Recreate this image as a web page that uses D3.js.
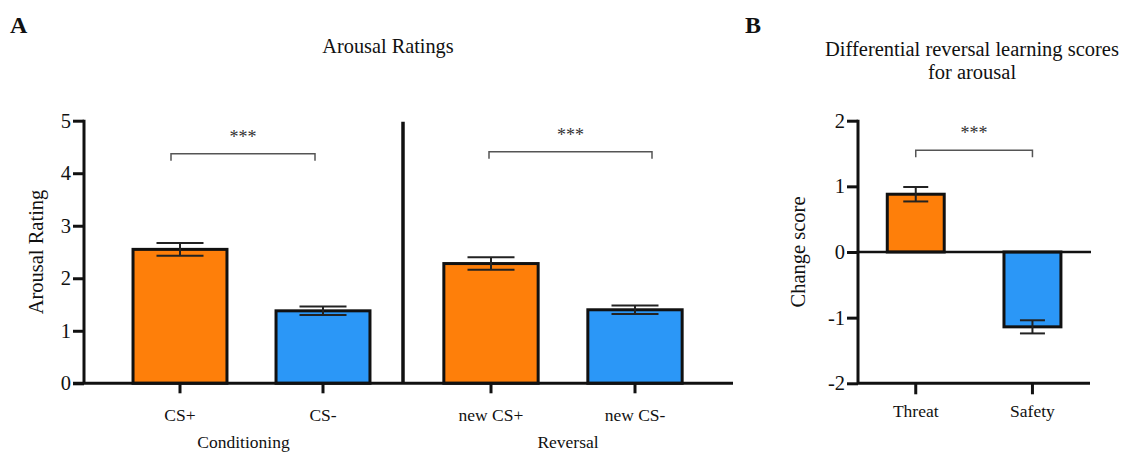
<!DOCTYPE html>
<html>
<head>
<meta charset="utf-8">
<script src="https://cdn.jsdelivr.net/npm/d3@7"></script>
<style>
  html, body { margin: 0; padding: 0; background: #fff; }
  svg { display: block; font-family: "Liberation Serif", "Times New Roman", serif; }
</style>
</head>
<body>
<svg id="chart" width="1127" height="454"></svg>
<script>
// ---- Data ----
const phases = ["Conditioning", "Reversal"];
const condCategories = ["CS+", "CS-"];
const revCategories = ["new CS+", "new CS-"];
const condMeans = [2.55, 1.38];
const condErrors = [0.12, 0.08];
const revMeans = [2.28, 1.40];
const revErrors = [0.12, 0.08];
const arousalTicks = [0, 1, 2, 3, 4, 5];

const changeCategories = ["Threat", "Safety"];
const changeMeans = [0.88, -1.14];
const changeErrors = [0.11, 0.10];
const changeTicks = [-2, -1, 0, 1, 2];

// significance brackets: [first category, second category, height, label]
const condSig = ["CS+", "CS-", 4.37, "***"];
const revSig = ["new CS+", "new CS-", 4.41, "***"];
const changeSig = ["Threat", "Safety", 1.55, "***"];

const barColors = ["#FE7F0A", "#2B97F7"];

// ---- Setup ----
const svg = d3.select("#chart");
svg.append("rect").attr("width", 1127).attr("height", 454).attr("fill", "#fff");

const ink = "#111";
const errInk = "#222";
const bracketInk = "#555";

function drawBars(g, x, y, cats, means, errs, capW) {
  cats.forEach((c, i) => {
    const x0 = x(c), w = x.bandwidth();
    const yTop = Math.min(y(means[i]), y(0));
    const h = Math.abs(y(means[i]) - y(0));
    g.append("rect")
      .attr("x", x0).attr("y", yTop).attr("width", w).attr("height", h)
      .attr("fill", barColors[i]).attr("stroke", ink).attr("stroke-width", 3);
    const cx = x0 + w / 2;
    const hi = y(means[i] + errs[i]), lo = y(means[i] - errs[i]);
    g.append("line").attr("x1", cx).attr("x2", cx).attr("y1", hi).attr("y2", lo)
      .attr("stroke", errInk).attr("stroke-width", 2);
    [hi, lo].forEach(yy => {
      g.append("line").attr("x1", cx - capW / 2).attr("x2", cx + capW / 2)
        .attr("y1", yy).attr("y2", yy).attr("stroke", errInk).attr("stroke-width", 2);
    });
  });
}

function drawBracket(g, x, y, sig, dx1, dx2) {
  const xa = x(sig[0]) + x.bandwidth() / 2 + dx1;
  const xb = x(sig[1]) + x.bandwidth() / 2 + dx2;
  const yy = y(sig[2]);
  g.append("path")
    .attr("d", `M${xa},${yy + 7}V${yy}H${xb}V${yy + 7}`)
    .attr("fill", "none").attr("stroke", bracketInk).attr("stroke-width", 1.5);
  g.append("text").attr("x", (xa + xb) / 2).attr("y", yy - 11)
    .attr("text-anchor", "middle").attr("font-size", 18).attr("fill", "#333")
    .text(sig[3]);
}

function styleAxis(sel, fs) {
  sel.selectAll(".domain").remove();
  sel.selectAll(".tick line").attr("stroke", ink).attr("stroke-width", 3);
  sel.selectAll(".tick text").attr("font-size", fs).attr("fill", ink)
    .attr("font-family", "Liberation Serif, Times New Roman, serif");
}

const intFormat = d => (d < 0 ? "-" + Math.abs(d) : String(d));

// ---- Panel A: Arousal ratings ----
const gA = svg.append("g");
const yA = d3.scaleLinear().domain([0, 5]).range([383.3, 120.7]);
const axisLeftX = 84, divX = 403, axisEndX = 733;

const xCond = d3.scaleBand().domain(condCategories).range([108.5, 394.5])
  .paddingInner(0.343).paddingOuter(0.1715);
const xRev = d3.scaleBand().domain(revCategories).range([419, 707])
  .paddingInner(0.345).paddingOuter(0.1725);

drawBars(gA, xCond, yA, condCategories, condMeans, condErrors, 47);
drawBars(gA, xRev, yA, revCategories, revMeans, revErrors, 47);

// y axis
const yAxisA = gA.append("g").attr("transform", `translate(${axisLeftX},0)`)
  .call(d3.axisLeft(yA).tickValues(arousalTicks).tickFormat(intFormat)
    .tickSize(11).tickPadding(2).tickSizeOuter(0));
styleAxis(yAxisA, 20.5);
gA.append("line").attr("x1", axisLeftX).attr("x2", axisLeftX)
  .attr("y1", yA(5) - 1).attr("y2", yA(0)).attr("stroke", ink).attr("stroke-width", 3);

// baseline spanning both phases
gA.append("line").attr("x1", axisLeftX - 11).attr("x2", axisEndX)
  .attr("y1", yA(0)).attr("y2", yA(0)).attr("stroke", ink).attr("stroke-width", 3);

// phase divider
gA.append("line").attr("x1", divX).attr("x2", divX)
  .attr("y1", yA(5) + 1).attr("y2", yA(0)).attr("stroke", ink).attr("stroke-width", 3.5);

// category axes
[xCond, xRev].forEach(sc => {
  const ax = gA.append("g").attr("transform", `translate(0,${yA(0)})`)
    .call(d3.axisBottom(sc).tickSize(10).tickPadding(15).tickSizeOuter(0));
  styleAxis(ax, 17.5);
});

// phase labels centred under each section
const phaseSpans = [[axisLeftX, divX], [divX, axisEndX]];
phases.forEach((p, i) => {
  gA.append("text").attr("x", (phaseSpans[i][0] + phaseSpans[i][1]) / 2).attr("y", 448)
    .attr("text-anchor", "middle").attr("font-size", 17.5).attr("fill", ink).text(p);
});

drawBracket(gA, xCond, yA, condSig, -9, -8);
drawBracket(gA, xRev, yA, revSig, -2, 17);

gA.append("text")
  .attr("transform", `translate(43,${(yA(0) + yA(5)) / 2}) rotate(-90)`)
  .attr("text-anchor", "middle").attr("font-size", 20.5).attr("fill", ink)
  .text("Arousal Rating");

gA.append("text").attr("x", 388).attr("y", 53).attr("text-anchor", "middle")
  .attr("font-size", 20.3).attr("fill", ink).text("Arousal Ratings");

svg.append("text").attr("x", 10).attr("y", 33).attr("font-size", 24)
  .attr("font-weight", "bold").attr("fill", ink).text("A");

// ---- Panel B: change scores ----
const gB = svg.append("g");
const yB = d3.scaleLinear().domain([-2, 2]).range([383.3, 120.7]);
const xB = d3.scaleBand().domain(changeCategories).range([857.4, 1090.8])
  .paddingInner(0.512).paddingOuter(0.256);
const axisBX = 858;

drawBars(gB, xB, yB, changeCategories, changeMeans, changeErrors, 25);

const yAxisB = gB.append("g").attr("transform", `translate(${axisBX},0)`)
  .call(d3.axisLeft(yB).tickValues(changeTicks).tickFormat(intFormat)
    .tickSize(11).tickPadding(2).tickSizeOuter(0));
styleAxis(yAxisB, 20.5);
gB.append("line").attr("x1", axisBX).attr("x2", axisBX)
  .attr("y1", yB(2) - 1).attr("y2", yB(-2)).attr("stroke", ink).attr("stroke-width", 3);

// zero line and bottom axis
gB.append("line").attr("x1", axisBX).attr("x2", 1091)
  .attr("y1", yB(0)).attr("y2", yB(0)).attr("stroke", ink).attr("stroke-width", 2.5);
gB.append("line").attr("x1", axisBX).attr("x2", 1090)
  .attr("y1", yB(-2)).attr("y2", yB(-2)).attr("stroke", ink).attr("stroke-width", 3);
const xAxisB = gB.append("g").attr("transform", `translate(0,${yB(-2)})`)
  .call(d3.axisBottom(xB).tickSize(11).tickPadding(10).tickSizeOuter(0));
styleAxis(xAxisB, 17.5);

drawBracket(gB, xB, yB, changeSig, 0, 0);

gB.append("text")
  .attr("transform", `translate(805,${(yB(-2) + yB(2)) / 2}) rotate(-90)`)
  .attr("text-anchor", "middle").attr("font-size", 20.5).attr("fill", ink)
  .text("Change score");

gB.append("text").attr("x", 972).attr("y", 56).attr("text-anchor", "middle")
  .attr("font-size", 20.5).attr("fill", ink).text("Differential reversal learning scores");
gB.append("text").attr("x", 972).attr("y", 79).attr("text-anchor", "middle")
  .attr("font-size", 20.5).attr("fill", ink).text("for arousal");

svg.append("text").attr("x", 745).attr("y", 33).attr("font-size", 24)
  .attr("font-weight", "bold").attr("fill", ink).text("B");
</script>
</body>
</html>
